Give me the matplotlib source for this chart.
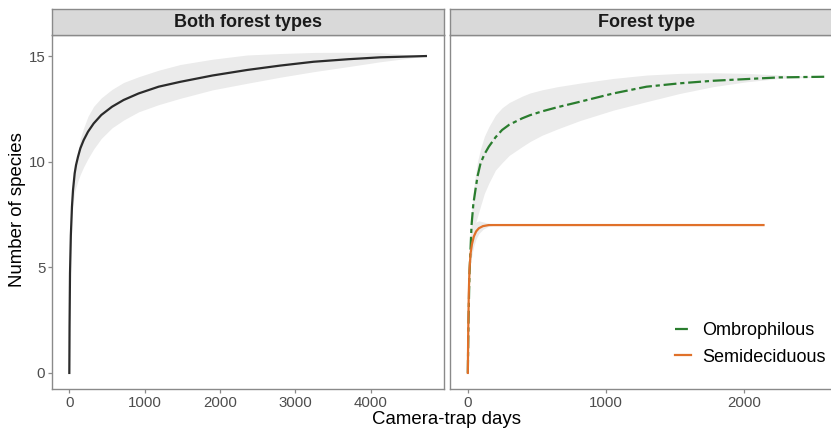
import matplotlib
matplotlib.use("Agg")
import matplotlib.pyplot as plt

plt.rcParams['font.family'] = ['Liberation Sans', 'DejaVu Sans']

# ---------------- data ----------------
both_x = [0, 3, 9, 20, 35, 49, 71, 89, 115, 146, 190, 248, 323, 424, 566, 720, 919, 1185, 1472,
          1900, 2357, 2800, 3240, 3700, 4125, 4730]
both_y = [0, 2.2, 4.72, 6.5, 7.87, 8.66, 9.45, 9.84, 10.23, 10.63, 11.02, 11.42, 11.81, 12.21, 12.6,
          12.92, 13.23, 13.55, 13.78, 14.08, 14.34, 14.55, 14.73, 14.85, 14.94, 15.0]
both_lo = [0, 2.0, 4.5, 6.1, 7.5, 8.0, 8.55, 8.8, 9.1, 9.4, 9.75, 10.15, 10.6, 11.1, 11.6,
           11.97, 12.36, 12.7, 13.0, 13.4, 13.71, 14.0, 14.26, 14.5, 14.73, 15.0]
both_hi = [0, 2.4, 4.95, 7.0, 8.3, 9.0, 9.7, 10.05, 10.5, 11.1, 11.6, 12.15, 12.62, 13.02, 13.42,
           13.75, 14.02, 14.33, 14.6, 14.85, 15.05, 15.12, 15.17, 15.18, 15.16, 15.0]

omb_x = [0, 5, 12, 27, 40, 56, 70, 92, 120, 152, 200, 248, 300, 393, 450, 537, 650, 814, 1054,
         1295, 1536, 1776, 2017, 2258, 2583]
omb_y = [0, 2.5, 4.72, 7.0, 8.0, 8.7, 9.3, 9.92, 10.35, 10.71, 11.15, 11.5, 11.75, 12.05, 12.2,
         12.38, 12.58, 12.84, 13.23, 13.55, 13.71, 13.83, 13.91, 13.99, 14.02]
omb_lo = [0, 2.3, 4.5, 6.4, 6.9, 7.1, 7.4, 7.9, 8.5, 8.98, 9.6, 9.95, 10.3, 10.71, 10.95, 11.25,
          11.55, 11.95, 12.44, 12.84, 13.23, 13.55, 13.78, 13.94, 14.02]
omb_hi = [0, 2.7, 4.9, 7.6, 8.6, 9.4, 10.0, 10.6, 11.2, 11.65, 12.2, 12.55, 12.8, 13.1, 13.25,
          13.4, 13.55, 13.72, 13.94, 14.1, 14.18, 14.21, 14.18, 14.1, 14.02]

semi_x = [0, 3, 7, 12, 20, 30, 43, 60, 80, 110, 152, 200, 300, 2142]
semi_y = [0, 2.0, 3.77, 4.9, 5.66, 6.1, 6.45, 6.7, 6.85, 6.95, 7.0, 7.0, 7.0, 7.0]
semi_lo = [0, 1.8, 3.5, 4.5, 5.2, 5.6, 6.0, 6.35, 6.6, 6.8, 6.95, 7.0, 7.0, 7.0]
semi_hi = [0, 2.2, 4.0, 5.3, 6.0, 6.6, 7.0, 7.15, 7.2, 7.15, 7.08, 7.02, 7.0, 7.0]

strip_titles = ["Both forest types", "Forest type"]
series_labels = ["Ombrophilous", "Semideciduous"]
yticks = [0, 5, 10, 15]
xticks_left = [0, 1000, 2000, 3000, 4000]
xticks_right = [0, 1000, 2000]

# ---------------- styling ----------------
W, H = 831, 430
fig = plt.figure(figsize=(W / 100, H / 100), dpi=100)

def fx(px):
    return px / W

def fy(py):
    return 1 - py / H

border = '#8a8a8a'
ribbon = '#EBEBEB'
green = '#2A7D2E'
orange = '#E0712A'
tickcol = '#4D4D4D'

panel_top, panel_bot = 34.5, 389.0
strip_top = 9.0
pw = 392.2
lefts = [51.5, 450.0]

axes = []
for i, lx in enumerate(lefts):
    ax = fig.add_axes([fx(lx), fy(panel_bot), pw / W, (panel_bot - panel_top) / H])
    axes.append(ax)
    sax = fig.add_axes([fx(lx), fy(panel_top), pw / W, (panel_top - strip_top) / H])
    sax.set_facecolor('#D9D9D9')
    sax.set_xticks([]); sax.set_yticks([])
    for s in sax.spines.values():
        s.set_color(border); s.set_linewidth(1.0)
    sax.text(0.5, 0.47, strip_titles[i], transform=sax.transAxes, ha='center', va='center',
             fontsize=13, fontweight='bold', color='#1A1A1A')

for ax in axes:
    ax.set_ylim(-0.76, 16.02)
    for s in ax.spines.values():
        s.set_color(border); s.set_linewidth(1.0)
    ax.tick_params(axis='both', colors=border, labelcolor=tickcol, labelsize=10.8, length=3, width=0.9)
    ax.tick_params(axis='x', pad=2.0)
    ax.tick_params(axis='y', pad=1.5)

ax1, ax2 = axes
ax1.set_xlim(-0.05 * 4730, 1.05 * 4730)
ax2.set_xlim(-0.05 * 2583, 1.05 * 2583)

ax1.fill_between(both_x, both_lo, both_hi, color=ribbon, lw=0)
ax1.plot(both_x, both_y, color='#2B2B2B', lw=1.6, solid_joinstyle='round')
ax1.set_xticks(xticks_left)
ax1.set_yticks(yticks)

ax2.fill_between(omb_x, omb_lo, omb_hi, color=ribbon, lw=0)
ax2.fill_between(semi_x, semi_lo, semi_hi, color=ribbon, lw=0)
l_omb, = ax2.plot(omb_x, omb_y, color=green, lw=1.6, dashes=(5.8, 1.7, 1.9, 1.7), label=series_labels[0])
l_semi, = ax2.plot(semi_x, semi_y, color=orange, lw=1.6, solid_joinstyle='round', label=series_labels[1])
ax2.set_xticks(xticks_right)
ax2.set_yticks(yticks)
ax2.tick_params(axis='y', left=False, labelleft=False)

leg = fig.legend(handles=[l_omb, l_semi], labels=series_labels, loc='center left',
                 bbox_to_anchor=(fx(675), fy(344)), frameon=False, fontsize=13,
                 handlelength=0.9, handletextpad=0.6, labelspacing=0.5, borderpad=0, borderaxespad=0)

fig.text(fx(447), fy(419.5), "Camera-trap days", ha='center', va='center', fontsize=13.4, color='black')
fig.text(fx(18), fy(210), "Number of species", ha='center', va='center', rotation=90, fontsize=13.4, color='black')

fig.savefig('out.png', dpi=100)
